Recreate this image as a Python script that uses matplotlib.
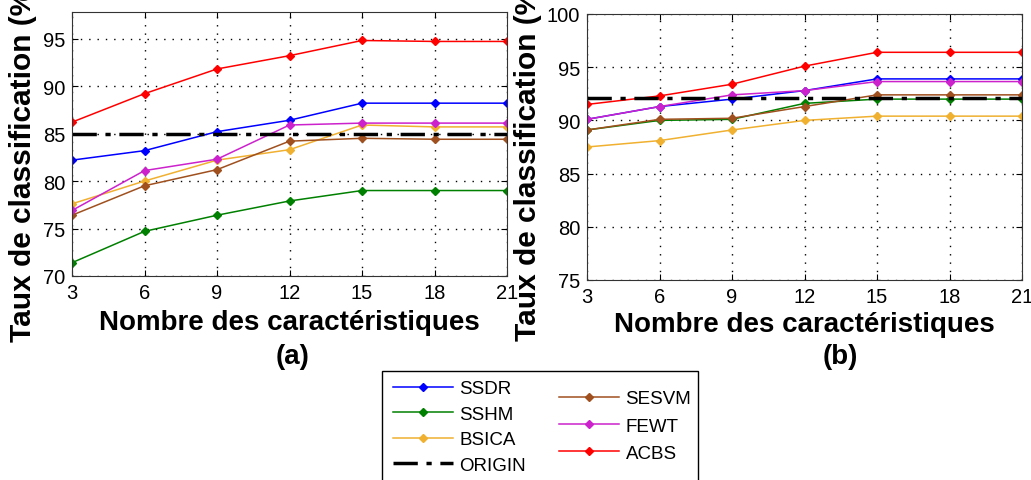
import matplotlib
matplotlib.use('Agg')
import matplotlib.pyplot as plt
from matplotlib.patches import Rectangle

plt.rcParams['font.family'] = ['Liberation Sans', 'DejaVu Sans']

# nombre de caracteristiques
n_feat = [3, 6, 9, 12, 15, 18, 21]

# (a)
ssdr_a  = [82.2, 83.2, 85.2, 86.4, 88.2, 88.2, 88.2]
sshm_a  = [71.4, 74.7, 76.4, 77.9, 79.0, 79.0, 79.0]
bsica_a = [77.6, 80.0, 82.2, 83.3, 85.9, 85.7, 85.7]
sesvm_a = [76.4, 79.5, 81.2, 84.2, 84.5, 84.4, 84.4]
fewt_a  = [76.9, 81.1, 82.3, 85.9, 86.1, 86.1, 86.1]
acbs_a  = [86.2, 89.2, 91.8, 93.2, 94.8, 94.7, 94.7]
origin_a = 85.0

# (b)
ssdr_b  = [90.1, 91.3, 92.0, 92.8, 93.9, 93.9, 93.9]
sshm_b  = [89.1, 90.0, 90.1, 91.6, 92.0, 92.0, 92.0]
bsica_b = [87.5, 88.1, 89.1, 90.0, 90.4, 90.4, 90.4]
sesvm_b = [89.1, 90.1, 90.2, 91.3, 92.4, 92.4, 92.4]
fewt_b  = [90.1, 91.3, 92.4, 92.8, 93.65, 93.65, 93.65]
acbs_b  = [91.5, 92.3, 93.4, 95.1, 96.4, 96.4, 96.4]
origin_b = 92.1

names = ['SSDR', 'SSHM', 'BSICA', 'SESVM', 'FEWT', 'ACBS']
colors = ['#0000ff', '#008000', '#f0b030', '#a0501e', '#cc22cc', '#ff0000']

fig = plt.figure(figsize=(10.31, 4.81), dpi=100)
W, H = 1031.0, 481.0


def panel(rect, series, origin, ylim, yticks, tag, tag_x):
    ax = fig.add_axes(rect)
    lines = []
    for name, col, y in zip(names, colors, series):
        l, = ax.plot(n_feat, y, color=col, lw=1.1, marker='D', ms=3.8, label=name)
        lines.append(l)
    o, = ax.plot([n_feat[0], n_feat[-1]], [origin, origin], color='black', lw=2.5,
                 dashes=(7, 2.5, 1.5, 2.5), label='ORIGIN')
    ax.set_xlim(3, 21)
    ax.set_ylim(*ylim)
    ax.set_xticks(n_feat)
    ax.set_yticks(yticks)
    ax.grid(True, color='black', ls=(0, (1, 5)), lw=1.0)
    ax.tick_params(direction='in', length=4, top=True, right=True, labelsize=14.5, pad=5)
    ax.set_xlabel('Nombre des caractéristiques', fontsize=20, fontweight='bold', va='center')
    ax.set_ylabel('Taux de classification (%)', fontsize=21.5, fontweight='bold')
    for s in ax.spines.values():
        s.set_color('#333333')
    fig.text(tag_x / W, 1 - 357 / H, tag, fontsize=20, fontweight='bold',
             ha='center', va='center')
    return ax, lines, o


ax1, lines, o = panel([72 / W, 1 - 277 / H, 435 / W, 264 / H],
                      [ssdr_a, sshm_a, bsica_a, sesvm_a, fewt_a, acbs_a],
                      origin_a, (70, 97.8), [70, 75, 80, 85, 90, 95], '(a)', 293)
ax1.xaxis.set_label_coords(0.5, -0.174)
ax1.yaxis.set_label_coords(-0.08, 0.443)

ax2, _, _ = panel([587 / W, 1 - 281 / H, 435 / W, 266 / H],
                  [ssdr_b, sshm_b, bsica_b, sesvm_b, fewt_b, acbs_b],
                  origin_b, (75, 100), [75, 80, 85, 90, 95, 100], '(b)', 840)
ax2.xaxis.set_label_coords(0.5, -0.165)
ax2.yaxis.set_label_coords(-0.103, 0.455)

# legende
fig.patches.append(Rectangle((382 / W, -0.05), (698 - 382) / W, 1 - 372 / H + 0.05,
                             transform=fig.transFigure, fill=False, ec='black', lw=1.0))
leg_kw = dict(frameon=False, fontsize=13.5, handlelength=3.2, handletextpad=0.35,
              borderpad=0, borderaxespad=0, loc='upper left')
fig.legend(lines[:3] + [o], names[:3] + ['ORIGIN'], labelspacing=0.45,
           bbox_to_anchor=(393 / W, 1 - 381 / H), **leg_kw)
fig.legend(lines[3:], names[3:], labelspacing=0.55,
           bbox_to_anchor=(559 / W, 1 - 391 / H), **leg_kw)

fig.savefig('out.png', dpi=100)
